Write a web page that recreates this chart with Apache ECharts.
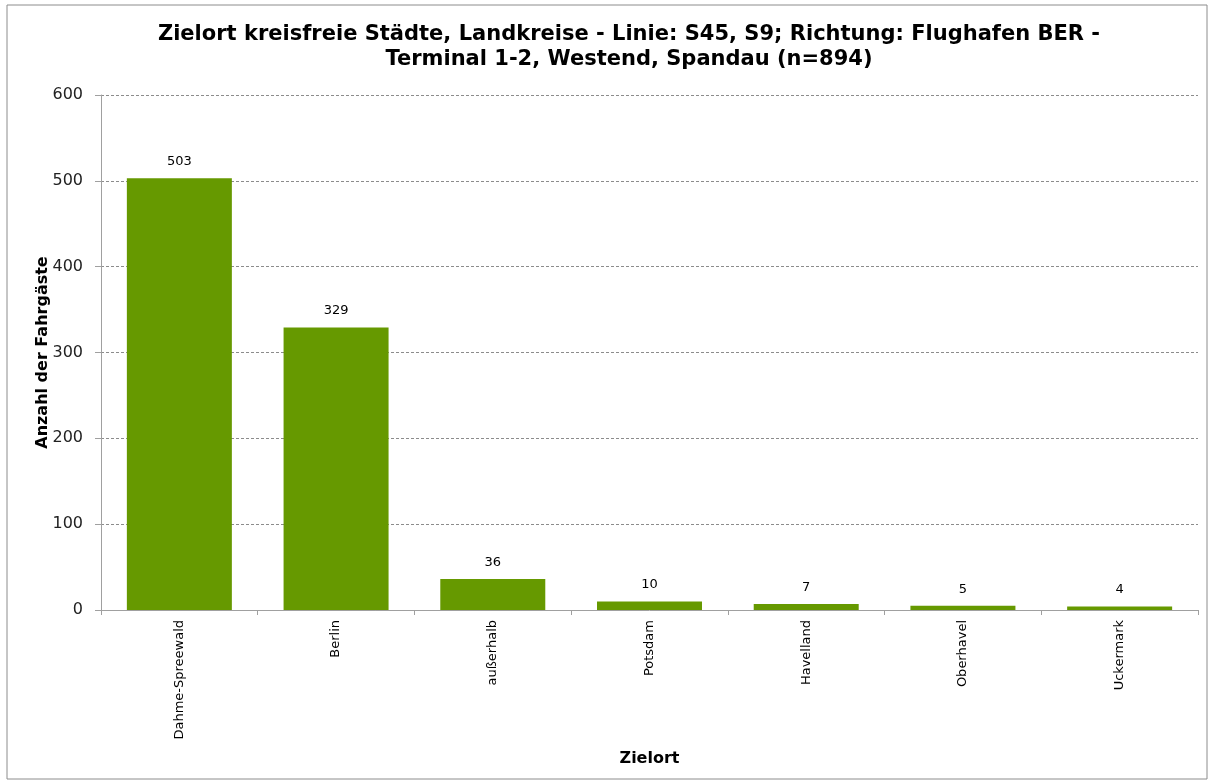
<!DOCTYPE html>
<html><head><meta charset="utf-8">
<script src="https://cdn.jsdelivr.net/npm/echarts@6/dist/echarts.min.js"></script>
<style>html,body{margin:0;padding:0;background:#fff}#c{width:1208px;height:780px}</style>
</head><body><div id="c"></div>
<script>
const categories = ["Dahme-Spreewald","Berlin","außerhalb","Potsdam","Havelland","Oberhavel","Uckermark"];
const values = [503,329,36,10,7,5,4];
const yTicks = [0,100,200,300,400,500,600];
const titleText = "Zielort kreisfreie Städte, Landkreise - Linie: S45, S9; Richtung: Flughafen BER -\nTerminal 1-2, Westend, Spandau (n=894)";
const yName = "Anzahl der Fahrgäste";
const xName = "Zielort";

const chart = echarts.init(document.getElementById('c'), null, {renderer:'canvas'});
const font = "DejaVu Sans";
chart.setOption({
  animation:false,
  backgroundColor:'#fff',
  graphic:[{type:'rect',shape:{x:7,y:5,width:1200,height:774},style:{fill:'none',stroke:'#8c8c8c',lineWidth:1},silent:true}],
  title:{text:titleText,left:624,top:17,textAlign:'center',
    textStyle:{fontFamily:font,fontSize:21,fontWeight:'bold',color:'#000',lineHeight:25}},
  grid:{left:101,right:10,top:95,bottom:170,containLabel:false},
  xAxis:{type:'category',data:categories,boundaryGap:true,
    name:xName,nameLocation:'middle',nameGap:141,nameMoveOverlap:false,
    nameTextStyle:{fontFamily:font,fontSize:16,fontWeight:'bold',color:'#000'},
    axisLine:{lineStyle:{color:'#a0a0a0',width:1}},
    axisTick:{show:true,length:5,lineStyle:{color:'#a0a0a0'},alignWithLabel:false},
    axisLabel:{rotate:90,interval:0,fontFamily:font,fontSize:13,color:'#000',margin:10}},
  yAxis:{type:'value',min:0,max:600,interval:100,
    name:yName,nameLocation:'middle',nameGap:50,nameMoveOverlap:false,
    nameTextStyle:{fontFamily:font,fontSize:16,fontWeight:'bold',color:'#000'},
    axisLine:{show:true,lineStyle:{color:'#a0a0a0'}},
    axisTick:{show:true,length:6,lineStyle:{color:'#a0a0a0'}},
    axisLabel:{fontFamily:font,fontSize:16,color:'#222',margin:18,
      formatter:v=>yTicks.includes(v)?String(v):''},
    splitLine:{show:true,lineStyle:{color:'#8c8c8c',type:[3,2],width:1}}},
  series:[{type:'bar',data:values,barCategoryGap:'33%',
    itemStyle:{color:'#669900'},
    label:{show:true,position:'top',distance:10,fontFamily:font,fontSize:13,color:'#000'}}]
});
</script></body></html>
